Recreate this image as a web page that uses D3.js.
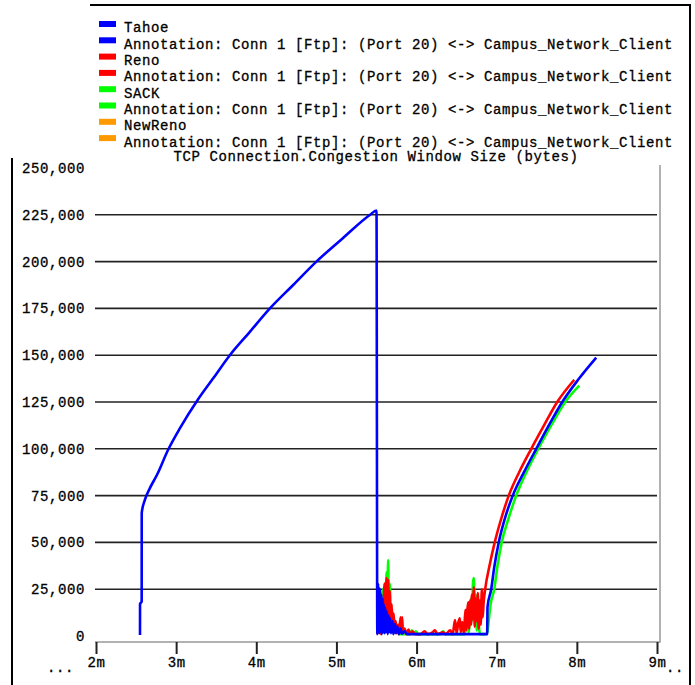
<!DOCTYPE html>
<html>
<head>
<meta charset="utf-8">
<script src="https://cdn.jsdelivr.net/npm/d3@7/dist/d3.min.js"></script>
<style>
body { margin: 0; background: #fff; }
text { font-family: "Liberation Mono", "Courier New", monospace; font-size: 14px; letter-spacing: 0.6px; fill: #000; stroke: #000; stroke-width: 0.3px; }
</style>
</head>
<body>
<svg id="chart" width="695" height="685"></svg>
<script>
var seriesNames = ["Tahoe", "Reno", "SACK", "NewReno"];
var seriesColors = ["#0000ff", "#ff0000", "#00ff00", "#ff9900"];
var annotationLabel = "Annotation: Conn 1 [Ftp]: (Port 20) <-> Campus_Network_Client";
var chartTitle = "TCP Connection.Congestion Window Size (bytes)";
var xTicks = [2, 3, 4, 5, 6, 7, 8, 9];
var yTicks = [0, 25000, 50000, 75000, 100000, 125000, 150000, 175000, 200000, 225000, 250000];
var gridTicks = [25000, 50000, 75000, 100000, 125000, 150000, 175000, 200000, 225000];

// [minutes, bytes]
var tahoe = [
  [2.549, 500], [2.5495, 17000], [2.57, 18500], [2.5705, 65800], [2.61, 72700], [2.674, 79100],
  [2.76, 86000], [2.90, 99500], [3.05, 111200], [3.27, 126200], [3.46, 137500], [3.67, 150000],
  [3.92, 162500], [4.17, 175000], [4.46, 187500], [4.75, 200000], [5.08, 212500], [5.42, 225000],
  [5.50, 227300], [5.51, 1000],
  [5.52, 28000], [5.525, 2000], [5.53, 26000], [5.535, 1500], [5.545, 25000], [5.55, 3000],
  [5.56, 22000], [5.565, 1000], [5.575, 20000], [5.58, 2000], [5.59, 17000], [5.60, 1500],
  [5.61, 15000], [5.62, 2000], [5.63, 13000], [5.64, 1000], [5.65, 11000], [5.66, 2000],
  [5.67, 9500], [5.68, 1500], [5.70, 8000], [5.71, 1000], [5.73, 6500], [5.74, 1500],
  [5.76, 5000], [5.78, 1000], [5.80, 4000], [5.82, 1200], [5.85, 2500], [5.88, 1000],
  [6.881, 1000], [6.885, 15500], [6.931, 25000], [6.97, 37000], [7.025, 50000], [7.10, 62500],
  [7.20, 75000], [7.34, 87500], [7.493, 100000], [7.65, 112500], [7.818, 125000],
  [8.018, 137000], [8.242, 148700]
];
var reno = [
  [5.51, 1000], [5.55, 8000], [5.555, 1000], [5.57, 10000], [5.58, 2000], [5.60, 28000],
  [5.61, 5000], [5.625, 31000], [5.635, 8000], [5.645, 30000], [5.655, 10000], [5.665, 24000],
  [5.675, 6000], [5.69, 17000], [5.70, 4000], [5.715, 12000], [5.725, 2000], [5.74, 8000],
  [5.75, 1500], [5.77, 6000], [5.78, 1000], [5.80, 10000], [5.81, 1500], [5.82, 10000],
  [5.83, 2000], [5.85, 4000], [5.87, 1000], [5.90, 3500], [5.92, 1000], [5.95, 2500],
  [5.98, 1000], [6.05, 1000], [6.10, 2500], [6.14, 1000], [6.20, 2000], [6.23, 3000],
  [6.26, 1000], [6.33, 2000], [6.36, 1000], [6.42, 3000], [6.45, 1000], [6.48, 8500],
  [6.50, 1500], [6.52, 7000], [6.54, 9500], [6.55, 2000], [6.57, 7500], [6.59, 1500],
  [6.61, 14000], [6.62, 3000], [6.63, 12000], [6.645, 18000], [6.655, 4000], [6.67, 19000],
  [6.68, 6000], [6.69, 22000], [6.70, 9000], [6.715, 26000], [6.725, 5000], [6.74, 20000],
  [6.75, 8000], [6.765, 23000], [6.775, 4000], [6.79, 19000], [6.80, 6000], [6.815, 25000],
  [6.825, 10000], [6.835, 17000], [6.856, 25000], [6.91, 37500], [6.975, 50000],
  [7.055, 62500], [7.15, 75000], [7.28, 87500], [7.431, 100000], [7.59, 112500],
  [7.755, 125000], [7.968, 136900]
];
var sack = [
  [5.51, 1000], [5.60, 26000], [5.61, 5000], [5.625, 34000], [5.635, 10000], [5.645, 40600],
  [5.655, 12000], [5.665, 28000], [5.68, 5000], [5.70, 12000], [5.72, 2000], [5.75, 5000],
  [5.78, 1000], [5.92, 1000], [5.94, 3000], [5.96, 1000], [5.99, 2500], [6.02, 1000],
  [6.30, 1000], [6.33, 2500], [6.36, 1000], [6.60, 1000], [6.63, 9000], [6.65, 2000],
  [6.68, 20000], [6.69, 8000], [6.705, 29000], [6.715, 31000], [6.725, 10000], [6.74, 22000],
  [6.75, 3000], [6.77, 8000], [6.79, 1000], [6.85, 1000], [6.88, 1500], [6.90, 8000],
  [6.92, 16000], [6.969, 25000], [7.01, 37500], [7.062, 50000], [7.145, 62500],
  [7.243, 75000], [7.37, 87500], [7.518, 100000], [7.68, 112500], [7.855, 125000],
  [8.03, 133700]
];
var newReno = [];

var svg = d3.select("#chart");

// outer window frame
svg.append("path")
  .attr("d", "M90,5H690V685M12,158V685")
  .attr("fill", "none").attr("stroke", "#000").attr("stroke-width", 2);

// legend
var legendRows = [];
seriesNames.forEach(function (n, i) {
  legendRows.push({ label: n, color: seriesColors[i] });
  legendRows.push({ label: annotationLabel, color: seriesColors[i] });
});
var legend = svg.append("g");
legend.selectAll("rect").data(legendRows).enter().append("rect")
  .attr("x", 99).attr("y", function (d, i) { return 21 + i * 16.3; })
  .attr("width", 17).attr("height", 6)
  .attr("fill", function (d) { return d.color; });
legend.selectAll("text").data(legendRows).enter().append("text")
  .attr("x", 124).attr("y", function (d, i) { return 28 + i * 16.3; })
  .attr("dy", "0.32em")
  .text(function (d) { return d.label; });

var x = d3.scaleLinear().domain([2, 9]).range([96, 657]);
var y = d3.scaleLinear().domain([0, 250000]).range([636, 168]);

svg.append("text").attr("x", 376).attr("y", 157).attr("dy", "0.32em")
  .attr("text-anchor", "middle").text(chartTitle);

// gridlines
svg.append("g").selectAll("line").data(gridTicks).enter().append("line")
  .attr("x1", 95).attr("x2", 657)
  .attr("y1", function (d) { return y(d); }).attr("y2", function (d) { return y(d); })
  .attr("stroke", "#222").attr("stroke-width", 1.6);

// frame: right edge and bottom axis line
svg.append("path").attr("d", "M95,642H660V165")
  .attr("fill", "none").attr("stroke", "#999").attr("stroke-width", 1.5);

// y axis labels
var yAxis = svg.append("g").attr("transform", "translate(95,0)")
  .call(d3.axisLeft(y).tickValues(yTicks).tickFormat(d3.format(",")).tickSize(0).tickPadding(10));
yAxis.select(".domain").remove();
yAxis.attr("font-family", null).attr("font-size", null);

// x axis
var xAxis = svg.append("g").attr("transform", "translate(0,642)")
  .call(d3.axisBottom(x).tickValues(xTicks).tickFormat(function (d) { return d + "m"; })
    .tickSize(12).tickPadding(3));
xAxis.select(".domain").remove();
xAxis.selectAll(".tick line").attr("stroke", "#222").attr("stroke-width", 2);
xAxis.attr("font-family", null).attr("font-size", null);
svg.append("text").attr("x", 74).attr("y", 668).attr("dy", "0.32em")
  .attr("text-anchor", "end").text("...");
svg.append("text").attr("x", 666).attr("y", 668).attr("dy", "0.32em").text("..");

// series, drawn so Tahoe sits on top
var line = d3.line()
  .x(function (d) { return x(d[0]); })
  .y(function (d) { return y(d[1]); })
  .curve(d3.curveMonotoneX);
var drawOrder = [
  { data: sack, color: seriesColors[2] },
  { data: reno, color: seriesColors[1] },
  { data: newReno, color: seriesColors[3] },
  { data: tahoe, color: seriesColors[0] }
];
svg.append("g").selectAll("path").data(drawOrder.filter(function (s) { return s.data.length; }))
  .enter().append("path")
  .attr("d", function (s) { return line(s.data); })
  .attr("fill", "none")
  .attr("stroke", function (s) { return s.color; })
  .attr("stroke-width", 2.6)
  .attr("stroke-linejoin", "round");
</script>
</body>
</html>
